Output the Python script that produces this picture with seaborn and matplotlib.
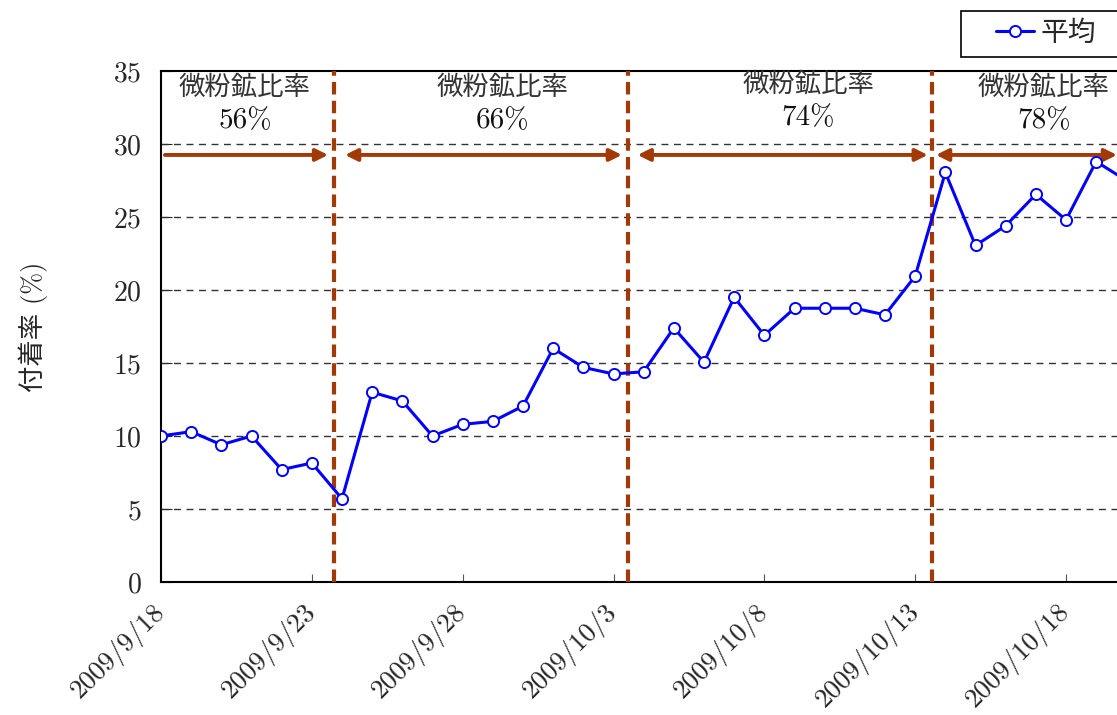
import matplotlib
matplotlib.use("Agg")
import matplotlib.pyplot as plt
import matplotlib.dates as mdates
from matplotlib.patches import Rectangle
import seaborn as sns
import pandas as pd
import numpy as np

dates = ["2009-09-18", "2009-09-19", "2009-09-20", "2009-09-21", "2009-09-22",
         "2009-09-23", "2009-09-24", "2009-09-25", "2009-09-26", "2009-09-27",
         "2009-09-28", "2009-09-29", "2009-09-30", "2009-10-01", "2009-10-02",
         "2009-10-03", "2009-10-04", "2009-10-05", "2009-10-06", "2009-10-07",
         "2009-10-08", "2009-10-09", "2009-10-10", "2009-10-11", "2009-10-12",
         "2009-10-13", "2009-10-14", "2009-10-15", "2009-10-16", "2009-10-17",
         "2009-10-18", "2009-10-19", "2009-10-20"]
average = [10.0, 10.3, 9.4, 10.0, 7.7, 8.15, 5.7, 13.0, 12.4, 10.0,
           10.8, 11.0, 12.05, 16.0, 14.7, 14.25, 14.4, 17.4, 15.05, 19.5,
           16.9, 18.75, 18.75, 18.75, 18.3, 20.95, 28.05, 23.05, 24.4, 26.55,
           24.8, 28.8, 27.5]

tick_dates = ["2009-09-18", "2009-09-23", "2009-09-28", "2009-10-03",
              "2009-10-08", "2009-10-13", "2009-10-18"]
tick_labels = ["2009/9/18", "2009/9/23", "2009/9/28", "2009/10/3",
               "2009/10/8", "2009/10/13", "2009/10/18"]

period_labels = ["56%", "66%", "74%", "78%"]
period_title = "微粉鉱比率"
# period boundaries (days after 2009/9/18)
boundaries = [5.73, 15.48, 25.55]

sns.set_style("ticks")
plt.rcParams["font.family"] = ["cmr10", "Noto Sans CJK JP", "DejaVu Sans"]
plt.rcParams["axes.formatter.use_mathtext"] = True
plt.rcParams["axes.unicode_minus"] = False

W, H = 1117, 715
fig = plt.figure(figsize=(W / 100, H / 100), dpi=100)
ax = fig.add_axes([161 / W, 1 - 582 / H, (1120 - 161) / W, (582 - 71) / H])

df = pd.DataFrame({"date": pd.to_datetime(dates), "val": average})
sns.lineplot(data=df, x="date", y="val", ax=ax, color="#0000FF", linewidth=2.2,
             marker="o", markersize=8, markerfacecolor="white",
             markeredgecolor="#0000FF", markeredgewidth=1.4, label="平均",
             zorder=5)

start = mdates.date2num(pd.Timestamp("2009-09-18"))
ax.set_xlim(start, start + 31.79)
ax.set_ylim(0, 35)
ax.set_yticks(np.arange(0, 36, 5))
ax.set_xticks([mdates.date2num(pd.Timestamp(d)) for d in tick_dates])
ax.set_xticklabels(tick_labels, rotation=45, ha="right", va="center",
                   rotation_mode="anchor")
ax.tick_params(axis="x", direction="in", length=6, color="#555555",
               labelsize=19.5, pad=19)
ax.tick_params(axis="y", direction="in", length=8, labelsize=20, pad=14)
ax.set_xlabel("")
ax.set_ylabel("付着率 (%)", fontsize=19, labelpad=47)

for y in range(5, 35, 5):
    ax.axhline(y, color="#333333", linestyle=(0, (5, 4)), linewidth=1.0, zorder=1)

for s in ["left", "bottom", "top"]:
    ax.spines[s].set_color("black")
    ax.spines[s].set_linewidth(1.5)
ax.spines["right"].set_visible(False)

brown = "#A23A08"
for b in boundaries:
    ax.axvline(start + b, color=brown, linestyle=(0, (3.0, 1.5)), linewidth=3.0,
               zorder=3)

arrow_y = 29.25
spans = [(0.13, 5.54, "-|>"), (6.1, 15.28, "<|-|>"), (15.8, 25.42, "<|-|>"),
         (25.69, 31.69, "<|-|>")]
for x0, x1, st in spans:
    ax.annotate("", xy=(start + x1, arrow_y), xytext=(start + x0, arrow_y),
                arrowprops=dict(arrowstyle=st, color=brown, lw=2.8,
                                mutation_scale=18, shrinkA=0, shrinkB=0),
                zorder=4)

text_pos = [(2.78, 33.9), (11.33, 33.9), (21.45, 34.1), (29.27, 33.9)]
for (tx, ty), lab in zip(text_pos, period_labels):
    ax.text(start + tx, ty, period_title, ha="center", va="center",
            fontsize=19, color="#333333")
    ax.text(start + tx, ty - 2.3, lab, ha="center", va="center",
            fontsize=21, color="#111111")

# legend box drawn manually (extends past right edge like the reference)
box = Rectangle((961 / W, 1 - 57 / H), 200 / W, 46 / H,
                transform=fig.transFigure, facecolor="white",
                edgecolor="black", linewidth=1.2, zorder=10, clip_on=False)
ax.add_patch(box)
leg = ax.legend(loc="center left", bbox_to_anchor=(996 / W, 1 - 34 / H),
                bbox_transform=fig.transFigure, frameon=False,
                fontsize=20, handlelength=1.35, handletextpad=0.25,
                borderpad=0.0, borderaxespad=0.0)
leg.set_zorder(11)

fig.savefig("out.png", dpi=100)
